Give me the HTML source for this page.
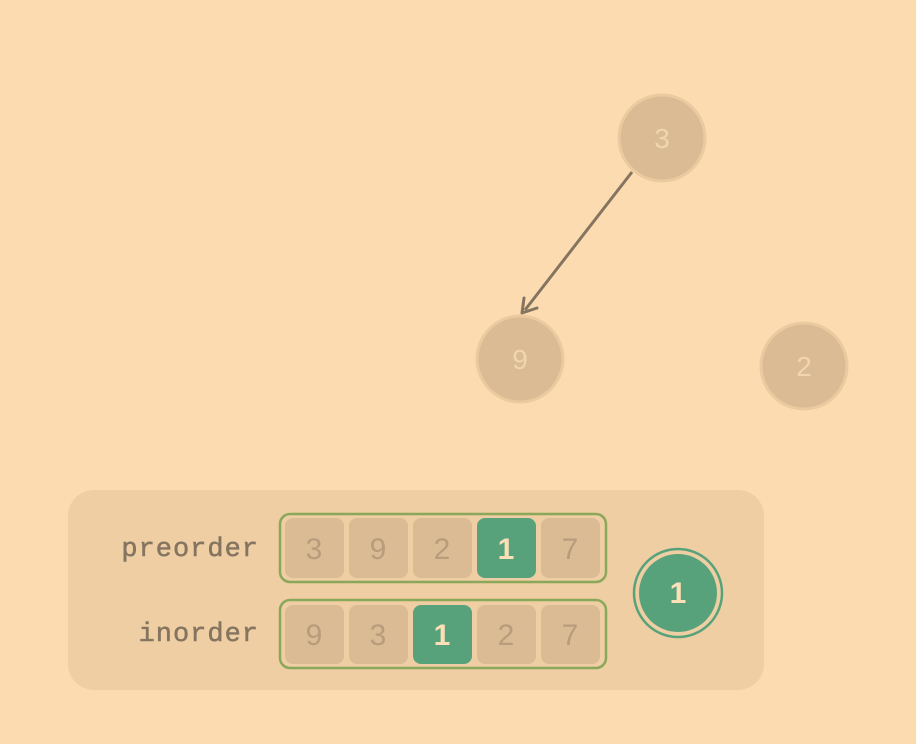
<!DOCTYPE html>
<html><head><meta charset="utf-8"><style>
html,body{margin:0;padding:0;background:#fddbb0;}
</style></head><body>
<svg width="916" height="744" xmlns="http://www.w3.org/2000/svg" style="display:block">
<rect width="916" height="744" fill="#fddbb0"/>
<g font-family="Liberation Sans, sans-serif" text-anchor="middle">
<line x1="632" y1="172" x2="525" y2="310" stroke="#857560" stroke-width="3"/>
<path d="M524,298 L522,313 L537,308" fill="none" stroke="#857560" stroke-width="3" stroke-linejoin="round" stroke-linecap="round"/>
<circle cx="662" cy="138" r="43" fill="#dbbb94" stroke="#eccaa0" stroke-width="3"/>
<text x="662" y="148" font-size="28" fill="#f2d5ad">3</text>
<circle cx="520" cy="359" r="43" fill="#dbbb94" stroke="#eccaa0" stroke-width="3"/>
<text x="520" y="369" font-size="28" fill="#f2d5ad">9</text>
<circle cx="804" cy="366" r="43" fill="#dbbb94" stroke="#eccaa0" stroke-width="3"/>
<text x="804" y="376" font-size="28" fill="#f2d5ad">2</text>
<rect x="68" y="490" width="696" height="200" rx="26" fill="#efcea3"/>
<g font-family="Liberation Mono, monospace" font-size="27" fill="#857560" text-anchor="end" letter-spacing="1" stroke="#857560" stroke-width="0.5">
<text x="259" y="556">preorder</text>
<text x="259" y="641">inorder</text>
</g>
<rect x="280" y="514" width="326" height="68" rx="10" fill="#efcea3" stroke="#8aa85a" stroke-width="2.5"/>
<rect x="280" y="600" width="326" height="68" rx="10" fill="#efcea3" stroke="#8aa85a" stroke-width="2.5"/>
<g font-size="30">
<rect x="285" y="518" width="59" height="60" rx="8" fill="#dbbb94"/><text x="314" y="559" fill="#b99c7b">3</text>
<rect x="349" y="518" width="59" height="60" rx="8" fill="#dbbb94"/><text x="378" y="559" fill="#b99c7b">9</text>
<rect x="413" y="518" width="59" height="60" rx="8" fill="#dbbb94"/><text x="442" y="559" fill="#b99c7b">2</text>
<rect x="477" y="518" width="59" height="60" rx="8" fill="#58a27b"/><text x="506" y="559" fill="#fde0b8" font-weight="bold">1</text>
<rect x="541" y="518" width="59" height="60" rx="8" fill="#dbbb94"/><text x="570" y="559" fill="#b99c7b">7</text>
<rect x="285" y="605" width="59" height="59" rx="8" fill="#dbbb94"/><text x="314" y="645" fill="#b99c7b">9</text>
<rect x="349" y="605" width="59" height="59" rx="8" fill="#dbbb94"/><text x="378" y="645" fill="#b99c7b">3</text>
<rect x="413" y="605" width="59" height="59" rx="8" fill="#58a27b"/><text x="442" y="645" fill="#fde0b8" font-weight="bold">1</text>
<rect x="477" y="605" width="59" height="59" rx="8" fill="#dbbb94"/><text x="506" y="645" fill="#b99c7b">2</text>
<rect x="541" y="605" width="59" height="59" rx="8" fill="#dbbb94"/><text x="570" y="645" fill="#b99c7b">7</text>
</g>
<circle cx="678" cy="593" r="44" fill="#efcea3" stroke="#58a27b" stroke-width="2.5"/>
<circle cx="678" cy="593" r="39" fill="#58a27b"/>
<text x="678" y="603" font-size="30" font-weight="bold" fill="#fde0b8">1</text>
</g>
</svg>
</body></html>
